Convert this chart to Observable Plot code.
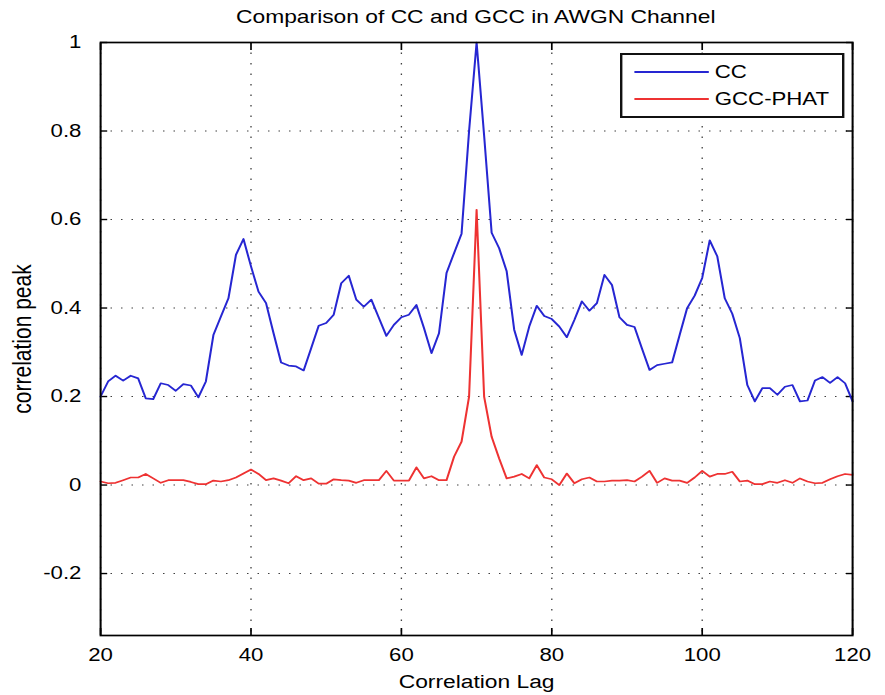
<!DOCTYPE html>
<html>
<head>
<meta charset="utf-8">
<script src="https://cdn.jsdelivr.net/npm/d3@7"></script>
<script src="https://cdn.jsdelivr.net/npm/@observablehq/plot@0.6"></script>
<style>
  body { margin: 0; background: #fff; font-family: "Liberation Sans", Arial, sans-serif; }
  #wrap { position: relative; width: 885px; height: 695px; overflow: hidden; background: #fff; }
  #title { height: 30px; width: 752px; margin-left: 100px; text-align: center; font-size: 19px; line-height: 34px; color: #000; white-space: nowrap; }
  #title span { display: inline-block; transform: scaleX(1.2); }
  #legend { position: absolute; left: 620px; top: 53px; width: 183px; height: 61px; border: 2px solid #111; background: #fff; transform: scaleX(1.2); transform-origin: 0 0; font-size: 18.5px; color: #000; }
  #legend .ln { position: absolute; left: 10px; width: 62px; height: 2px; }
  #legend .tx { position: absolute; left: 77px; height: 22px; line-height: 22px; white-space: nowrap; }
</style>
</head>
<body>
<div id="wrap">
  <div id="title"><span id="titleText"></span></div>
  <div id="chart"></div>
  <div id="legend"></div>
</div>
<script>
// ---- data ----
const titleText = "Comparison of CC and GCC in AWGN Channel";
const xLabel = "Correlation Lag";
const yLabel = "correlation peak";
const seriesNames = ["CC", "GCC-PHAT"];
const seriesColors = ["#2626d2", "#ee3232"];

const xTicks = [20, 40, 60, 80, 100, 120];
const xTickLabels = ["20", "40", "60", "80", "100", "120"];
const yTicks = [-0.2, 0, 0.2, 0.4, 0.6, 0.8, 1];
const yTickLabels = ["-0.2", "0", "0.2", "0.4", "0.6", "0.8", "1"];

const lags = d3.range(20, 121);

const ccValues = [
  0.200, 0.234, 0.247, 0.236, 0.247, 0.241, 0.196, 0.194, 0.230, 0.226,
  0.213, 0.228, 0.225, 0.198, 0.234, 0.339, 0.381, 0.422, 0.520, 0.556,
  0.494, 0.437, 0.411, 0.343, 0.277, 0.270, 0.268, 0.259, 0.309, 0.360,
  0.366, 0.385, 0.456, 0.473, 0.419, 0.403, 0.419, 0.378, 0.337, 0.362,
  0.379, 0.385, 0.407, 0.355, 0.298, 0.343, 0.479, 0.524, 0.568, 0.800,
  1.000, 0.790, 0.570, 0.535, 0.483, 0.351, 0.294, 0.358, 0.405, 0.382,
  0.375, 0.358, 0.334, 0.373, 0.415, 0.394, 0.411, 0.475, 0.452, 0.379,
  0.362, 0.357, 0.308, 0.260, 0.271, 0.274, 0.277, 0.339, 0.400, 0.428,
  0.468, 0.553, 0.517, 0.422, 0.387, 0.332, 0.226, 0.189, 0.219, 0.219,
  0.204, 0.222, 0.226, 0.189, 0.191, 0.236, 0.244, 0.231, 0.244, 0.230,
  0.189
];

const gccValues = [
  0.008, 0.004, 0.005, 0.011, 0.017, 0.017, 0.025, 0.015, 0.005, 0.011,
  0.011, 0.011, 0.007, 0.002, 0.002, 0.010, 0.008, 0.011, 0.017, 0.026,
  0.035, 0.025, 0.011, 0.015, 0.010, 0.004, 0.020, 0.011, 0.015, 0.003,
  0.003, 0.013, 0.011, 0.010, 0.005, 0.011, 0.011, 0.011, 0.032, 0.010,
  0.010, 0.010, 0.040, 0.015, 0.020, 0.011, 0.011, 0.064, 0.098, 0.200,
  0.622, 0.200, 0.109, 0.060, 0.015, 0.019, 0.025, 0.015, 0.045, 0.017,
  0.013, 0.000, 0.026, 0.004, 0.013, 0.017, 0.008, 0.008, 0.010, 0.010,
  0.011, 0.008, 0.019, 0.032, 0.005, 0.015, 0.010, 0.010, 0.005, 0.017,
  0.032, 0.019, 0.025, 0.025, 0.030, 0.008, 0.010, 0.002, 0.002, 0.008,
  0.005, 0.011, 0.005, 0.015, 0.008, 0.004, 0.005, 0.013, 0.020, 0.025,
  0.023
];

// ---- build ----
document.getElementById("titleText").textContent = titleText;

const S = 1.2;            // horizontal stretch of the reference rendering
const W = 885 / S;
const H = 665;

const rows = lags.map((lag, i) => ({lag, cc: ccValues[i], gcc: gccValues[i]}));
const fmtX = d => xTickLabels[xTicks.indexOf(d)];
const fmtY = d => yTickLabels[yTicks.indexOf(d)];
const blank = () => "";
const grid = {stroke: "#000", strokeOpacity: 0.75, strokeWidth: 1.1};

const chart = Plot.plot({
  width: W,
  height: H,
  marginLeft: 100 / S,
  marginRight: 33 / S,
  marginTop: 12,
  marginBottom: 60,
  style: {fontFamily: "'Liberation Sans', Arial, sans-serif", fontSize: "18.5px", color: "#000", background: "#fff"},
  x: {domain: [20, 120], label: null},
  y: {domain: [-0.34, 1], label: null},
  marks: [
    Plot.gridX(xTicks, {...grid, strokeDasharray: "1.5,9"}),
    Plot.gridY(yTicks, {...grid, strokeDasharray: "1.25,7.5"}),
    Plot.axisX(xTicks, {anchor: "bottom", tickSize: 0, tickPadding: 12, tickFormat: fmtX, label: null}),
    Plot.axisX(xTicks, {anchor: "bottom", tickSize: -7, tickFormat: blank, label: null, strokeWidth: 1.4}),
    Plot.axisX(xTicks, {anchor: "top", tickSize: -7, tickFormat: blank, label: null, strokeWidth: 1.4}),
    Plot.axisY(yTicks, {anchor: "left", tickSize: 0, tickPadding: 16, tickFormat: fmtY, label: null}),
    Plot.axisY(yTicks, {anchor: "left", tickSize: -6, tickFormat: blank, label: null, strokeWidth: 1.4}),
    Plot.axisY(yTicks, {anchor: "right", tickSize: -6, tickFormat: blank, label: null, strokeWidth: 1.4}),
    Plot.lineY(rows, {x: "lag", y: "cc", stroke: seriesColors[0], strokeWidth: 1.7}),
    Plot.lineY(rows, {x: "lag", y: "gcc", stroke: seriesColors[1], strokeWidth: 1.7}),
    Plot.frame({stroke: "#000", strokeWidth: 1.7}),
    Plot.text([xLabel], {text: d => d, frameAnchor: "bottom", dy: 52, fontSize: 19}),
    Plot.text([yLabel], {text: d => d, frameAnchor: "left", textAnchor: "middle", dx: -(100 - 22) / S, rotate: -90, fontSize: 21})
  ]
});

chart.setAttribute("viewBox", `0 0 ${W} ${H}`);
chart.setAttribute("preserveAspectRatio", "none");
chart.setAttribute("width", 885);
chart.setAttribute("height", H);
chart.style.width = "885px";
chart.style.height = H + "px";
chart.style.maxWidth = "none";
document.getElementById("chart").appendChild(chart);

// legend
const legend = document.getElementById("legend");
const rowCenters = [17, 44];
seriesNames.forEach((name, i) => {
  const ln = document.createElement("div");
  ln.className = "ln";
  ln.style.top = (rowCenters[i] - 1) + "px";
  ln.style.background = seriesColors[i];
  legend.appendChild(ln);
  const tx = document.createElement("div");
  tx.className = "tx";
  tx.style.top = (rowCenters[i] - 11) + "px";
  tx.textContent = name;
  legend.appendChild(tx);
});
</script>
</body>
</html>
